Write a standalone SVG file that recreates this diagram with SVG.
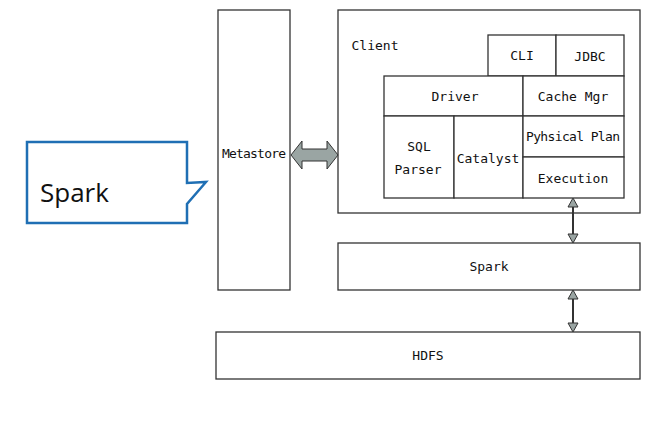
<svg xmlns="http://www.w3.org/2000/svg" width="658" height="427" viewBox="0 0 658 427">
<style>
.b{fill:#fff;stroke:#333;stroke-width:1.3}
.t{font-family:"DejaVu Sans Mono","Liberation Mono",monospace;font-size:13px;fill:#111;text-anchor:middle;transform-box:fill-box}
.ar{fill:#9aa5a3;stroke:#333;stroke-width:1}
</style>
<rect width="658" height="427" fill="#fff"/>
<g id="callout">
<path d="M27,142 H187 V183 L206,182 L187,204 V223 H27 Z" fill="#fff" stroke="#1f6fb4" stroke-width="2.5"/>
<text x="40" y="202" font-family="'Open Sans','Noto Sans',sans-serif" font-size="26" fill="#111">Spark</text>
</g>
<g id="metastore"><rect class="b" x="218" y="10" width="72" height="280"/><text class="t" x="254" y="158" textLength="64">Metastore</text></g>
<g id="client"><rect class="b" x="338" y="10" width="302" height="203"/><text class="t" x="375" y="50">Client</text></g>
<g id="cli"><rect class="b" x="488" y="35" width="68" height="41"/><text class="t" x="522" y="60">CLI</text></g>
<g id="jdbc"><rect class="b" x="556" y="35" width="68" height="41"/><text class="t" x="590" y="61">JDBC</text></g>
<g id="driver"><rect class="b" x="384" y="76" width="139" height="40"/><text class="t" x="455" y="101">Driver</text></g>
<g id="cachemgr"><rect class="b" x="523" y="76" width="101" height="40"/><text class="t" x="573" y="101">Cache Mgr</text></g>
<g id="sqlparser"><rect class="b" x="384" y="116" width="70" height="82"/><text class="t" x="419" y="151">SQL</text><text class="t" x="418" y="174">Parser</text></g>
<g id="catalyst"><rect class="b" x="454" y="116" width="69" height="82"/><text class="t" x="488" y="163">Catalyst</text></g>
<g id="plan"><rect class="b" x="523" y="116" width="101" height="41"/><text class="t" x="573" y="141" textLength="94">Pyhsical Plan</text></g>
<g id="execution"><rect class="b" x="523" y="157" width="101" height="41"/><text class="t" x="573" y="183">Execution</text></g>
<g id="spark"><rect class="b" x="338" y="243" width="302" height="47"/><text class="t" x="489" y="271">Spark</text></g>
<g id="hdfs"><rect class="b" x="216" y="332" width="424" height="47"/><text class="t" x="428" y="360">HDFS</text></g>
<g id="connectors">
<path class="ar" d="M291,155 L302,141 V149 H327 V141 L338,155 L327,169 V161 H302 V169 Z"/>
<g stroke="#333" stroke-width="2" fill="#9aa5a3">
<line x1="573" y1="205" x2="573" y2="236"/>
<path d="M573,198 L568,207 H578 Z" stroke-width="1"/>
<path d="M573,243 L568,234 H578 Z" stroke-width="1"/>
<line x1="573" y1="297" x2="573" y2="325"/>
<path d="M573,290 L568,299 H578 Z" stroke-width="1"/>
<path d="M573,332 L568,323 H578 Z" stroke-width="1"/>
</g>
</g>
</svg>
